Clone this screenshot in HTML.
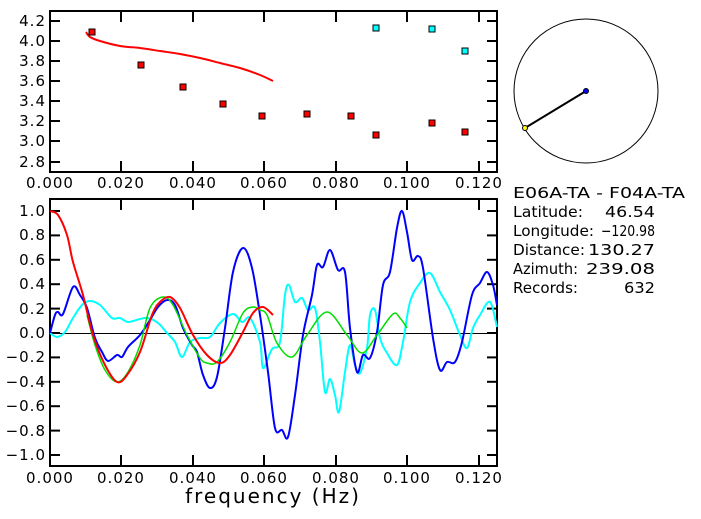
<!DOCTYPE html>
<html><head><meta charset="utf-8"><style>
body{margin:0;background:#fff;width:701px;height:519px;overflow:hidden}
svg{display:block}
text{font-family:"DejaVu Sans","Liberation Sans",sans-serif;fill:#000;letter-spacing:1px}
.side text{letter-spacing:0}
</style></head><body>
<svg width="701" height="519" viewBox="0 0 701 519" xmlns="http://www.w3.org/2000/svg">
<rect x="50" y="11" width="447" height="161" fill="none" stroke="#000" stroke-width="2"/>
<g stroke="#000" stroke-width="2">
<line x1="121" y1="11" x2="121" y2="22"/><line x1="193" y1="11" x2="193" y2="22"/><line x1="264" y1="11" x2="264" y2="22"/><line x1="336" y1="11" x2="336" y2="22"/><line x1="407" y1="11" x2="407" y2="22"/><line x1="479" y1="11" x2="479" y2="22"/>
<line x1="121" y1="172" x2="121" y2="161"/><line x1="193" y1="172" x2="193" y2="161"/><line x1="264" y1="172" x2="264" y2="161"/><line x1="336" y1="172" x2="336" y2="161"/><line x1="407" y1="172" x2="407" y2="161"/><line x1="479" y1="172" x2="479" y2="161"/>
<line x1="50" y1="21" x2="60" y2="21"/><line x1="50" y1="41" x2="60" y2="41"/><line x1="50" y1="61" x2="60" y2="61"/><line x1="50" y1="81" x2="60" y2="81"/><line x1="50" y1="101" x2="60" y2="101"/><line x1="50" y1="121" x2="60" y2="121"/><line x1="50" y1="141" x2="60" y2="141"/><line x1="50" y1="162" x2="60" y2="162"/>
<line x1="497" y1="21" x2="487" y2="21"/><line x1="497" y1="41" x2="487" y2="41"/><line x1="497" y1="61" x2="487" y2="61"/><line x1="497" y1="81" x2="487" y2="81"/><line x1="497" y1="101" x2="487" y2="101"/><line x1="497" y1="121" x2="487" y2="121"/><line x1="497" y1="141" x2="487" y2="141"/><line x1="497" y1="162" x2="487" y2="162"/>
</g>
<g font-size="15" text-anchor="end">
<text x="46" y="26">4.2</text><text x="46" y="46">4.0</text><text x="46" y="66">3.8</text><text x="46" y="86">3.6</text><text x="46" y="106">3.4</text><text x="46" y="126">3.2</text><text x="46" y="146">3.0</text><text x="46" y="167">2.8</text>
</g>
<g font-size="15" text-anchor="middle">
<text x="50" y="188">0.000</text><text x="121" y="188">0.020</text><text x="193" y="188">0.040</text><text x="264" y="188">0.060</text><text x="336" y="188">0.080</text><text x="407" y="188">0.100</text><text x="479" y="188">0.120</text>
</g>
<polyline class="sm" fill="none" stroke="#f00" stroke-width="2" points="86,32 90,37 100,41 120,46 140,48 160,51 180,54 200,58 220,63 240,68 260,75 273,81"/>
<g fill="#f00" stroke="#000" stroke-width="1">
<rect x="89" y="29" width="6" height="6"/><rect x="138" y="62" width="6" height="6"/><rect x="180" y="84" width="6" height="6"/><rect x="220" y="101" width="6" height="6"/><rect x="259" y="113" width="6" height="6"/><rect x="304" y="111" width="6" height="6"/><rect x="348" y="113" width="6" height="6"/><rect x="373" y="132" width="6" height="6"/><rect x="429" y="120" width="6" height="6"/><rect x="462" y="129" width="6" height="6"/>
</g>
<g fill="#0ff" stroke="#000" stroke-width="1">
<rect x="373" y="25" width="6" height="6"/><rect x="429" y="26" width="6" height="6"/><rect x="462" y="48" width="6" height="6"/>
</g>
<circle cx="586" cy="91" r="72" fill="none" stroke="#000" stroke-width="1"/>
<line x1="586" y1="91" x2="525" y2="128" stroke="#000" stroke-width="2"/>
<circle cx="586" cy="91" r="2.5" fill="#00f" stroke="#000" stroke-width="1"/>
<circle cx="525" cy="128" r="2.5" fill="#ff0" stroke="#000" stroke-width="1"/>
<g font-size="15" class="side">
<text x="513" y="198" textLength="172" lengthAdjust="spacingAndGlyphs">E06A-TA  -  F04A-TA</text>
<text x="513" y="217" textLength="70" lengthAdjust="spacingAndGlyphs">Latitude:</text><text x="605" y="217" textLength="50" lengthAdjust="spacingAndGlyphs">46.54</text>
<text x="513" y="236" textLength="81" lengthAdjust="spacingAndGlyphs">Longitude:</text><text x="601" y="236" textLength="54" lengthAdjust="spacingAndGlyphs">−120.98</text>
<text x="513" y="255" textLength="72" lengthAdjust="spacingAndGlyphs">Distance:</text><text x="588" y="255" textLength="67" lengthAdjust="spacingAndGlyphs">130.27</text>
<text x="513" y="274" textLength="65" lengthAdjust="spacingAndGlyphs">Azimuth:</text><text x="586" y="274" textLength="69" lengthAdjust="spacingAndGlyphs">239.08</text>
<text x="513" y="293" textLength="65" lengthAdjust="spacingAndGlyphs">Records:</text><text x="624" y="293" textLength="31" lengthAdjust="spacingAndGlyphs">632</text>
</g>
<rect x="50" y="199" width="447" height="267" fill="none" stroke="#000" stroke-width="2"/>
<line x1="50" y1="333.5" x2="497" y2="333.5" stroke="#000" stroke-width="1"/>
<g stroke="#000" stroke-width="2">
<line x1="121" y1="199" x2="121" y2="210"/><line x1="193" y1="199" x2="193" y2="210"/><line x1="264" y1="199" x2="264" y2="210"/><line x1="336" y1="199" x2="336" y2="210"/><line x1="407" y1="199" x2="407" y2="210"/><line x1="479" y1="199" x2="479" y2="210"/>
<line x1="121" y1="466" x2="121" y2="455"/><line x1="193" y1="466" x2="193" y2="455"/><line x1="264" y1="466" x2="264" y2="455"/><line x1="336" y1="466" x2="336" y2="455"/><line x1="407" y1="466" x2="407" y2="455"/><line x1="479" y1="466" x2="479" y2="455"/>
<line x1="50" y1="211" x2="60" y2="211"/><line x1="50" y1="235.4" x2="60" y2="235.4"/><line x1="50" y1="259.8" x2="60" y2="259.8"/><line x1="50" y1="284.2" x2="60" y2="284.2"/><line x1="50" y1="308.6" x2="60" y2="308.6"/><line x1="50" y1="333" x2="60" y2="333"/><line x1="50" y1="357.4" x2="60" y2="357.4"/><line x1="50" y1="381.8" x2="60" y2="381.8"/><line x1="50" y1="406.2" x2="60" y2="406.2"/><line x1="50" y1="430.6" x2="60" y2="430.6"/><line x1="50" y1="455" x2="60" y2="455"/>
<line x1="497" y1="211" x2="487" y2="211"/><line x1="497" y1="235.4" x2="487" y2="235.4"/><line x1="497" y1="259.8" x2="487" y2="259.8"/><line x1="497" y1="284.2" x2="487" y2="284.2"/><line x1="497" y1="308.6" x2="487" y2="308.6"/><line x1="497" y1="333" x2="487" y2="333"/><line x1="497" y1="357.4" x2="487" y2="357.4"/><line x1="497" y1="381.8" x2="487" y2="381.8"/><line x1="497" y1="406.2" x2="487" y2="406.2"/><line x1="497" y1="430.6" x2="487" y2="430.6"/><line x1="497" y1="455" x2="487" y2="455"/>
</g>
<g font-size="15" text-anchor="end">
<text x="46" y="216">1.0</text><text x="46" y="240">0.8</text><text x="46" y="265">0.6</text><text x="46" y="289">0.4</text><text x="46" y="314">0.2</text><text x="46" y="338">0.0</text><text x="46" y="362">−0.2</text><text x="46" y="387">−0.4</text><text x="46" y="411">−0.6</text><text x="46" y="436">−0.8</text><text x="46" y="460">−1.0</text>
</g>
<g font-size="15" text-anchor="middle">
<text x="50" y="483">0.000</text><text x="121" y="483">0.020</text><text x="193" y="483">0.040</text><text x="264" y="483">0.060</text><text x="336" y="483">0.080</text><text x="407" y="483">0.100</text><text x="479" y="483">0.120</text>
<text x="273" y="503" font-size="20" style="letter-spacing:2px">frequency (Hz)</text>
</g>
<polyline class="sm" fill="none" stroke="#0ff" stroke-width="2" points="50,333 57,337 65,332 73,318 82,305 90,301 100,305 112,318 120,318 128,322 140,319 148,318 158,323 167,333 175,342 182,357 190,342 200,338 210,337 220,323 233,314 242,322 250,318 260,342 263,368 270,353 273,348 280,342 285,295 289,285 295,302 302,298 308,310 315,308 320,342 325,392 330,379 335,395 339,412 345,372 350,345 355,365 360,373 367,348 370,315 375,310 380,338 387,353 397,365 403,342 410,302 420,283 430,273 440,292 450,310 460,335 467,348 473,328 480,315 490,302 497,327"/>
<polyline class="sm" fill="none" stroke="#00f" stroke-width="2" points="50,333 55,315 58,312 63,314 73,287 80,295 87,308 95,338 102,352 108,361 117,355 122,357 128,347 140,335 150,320 158,307 167,300 175,305 183,328 192,345 197,352 203,375 210,388 217,377 225,328 233,272 243,248 252,268 260,315 268,372 275,428 282,430 288,437 295,395 303,335 312,295 317,265 323,267 330,250 338,270 345,272 350,328 357,372 363,355 370,358 377,332 383,285 390,272 397,228 402,211 407,232 412,260 418,256 423,268 433,338 440,370 447,362 455,362 462,342 472,295 480,283 487,272 493,285 497,305"/>
<polyline class="sm" fill="none" stroke="#0d0" stroke-width="1.5" points="87,315 95,345 105,370 117,382 128,372 140,345 150,308 163,297 173,305 187,335 200,358 207,363 217,362 230,342 243,313 253,307 260,310 267,315 277,343 292,357 307,335 327,312 347,335 362,353 377,335 393,314 400,318 407,328"/>
<polyline class="sm" fill="none" stroke="#f00" stroke-width="2" points="50,211 58,215 67,235 73,262 83,295 93,335 105,365 117,382 127,375 140,352 152,315 160,302 170,297 180,308 193,335 207,355 220,363 230,355 243,332 253,313 263,307 273,315"/>
</svg>
<script>
document.querySelectorAll('polyline.sm').forEach(function(pl){
  var p=pl.getAttribute('points').trim().split(/\s+/).map(function(s){return s.split(',').map(Number);});
  var d='M'+p[0][0]+','+p[0][1];
  for(var i=0;i<p.length-1;i++){
    var p0=p[i-1]||p[i],p1=p[i],p2=p[i+1],p3=p[i+2]||p2;
    var c1x=p1[0]+(p2[0]-p0[0])/6,c1y=p1[1]+(p2[1]-p0[1])/6;
    var c2x=p2[0]-(p3[0]-p1[0])/6,c2y=p2[1]-(p3[1]-p1[1])/6;
    d+=' C'+c1x.toFixed(1)+','+c1y.toFixed(1)+' '+c2x.toFixed(1)+','+c2y.toFixed(1)+' '+p2[0]+','+p2[1];
  }
  var path=document.createElementNS('http://www.w3.org/2000/svg','path');
  path.setAttribute('d',d);
  ['fill','stroke','stroke-width'].forEach(function(a){path.setAttribute(a,pl.getAttribute(a));});
  path.setAttribute('stroke-linejoin','round');
  pl.parentNode.replaceChild(path,pl);
});
</script>
</body></html>
